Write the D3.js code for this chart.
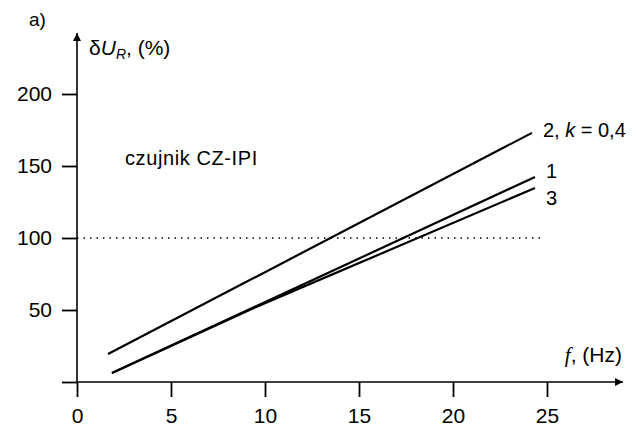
<!DOCTYPE html>
<html>
<head>
<meta charset="utf-8">
<script src="https://cdn.jsdelivr.net/npm/d3@7"></script>
<style>
  body { margin: 0; background: #fff; }
  svg { display: block; font-family: "Liberation Sans", Arial, sans-serif; }
  .tick text { font-size: 21px; fill: #000; }
  .tick line { stroke: #000; stroke-width: 1.8; }
</style>
</head>
<body>
<div id="chart"></div>
<script>
'use strict';

// frequency ticks (Hz) and deviation ticks (%)
const xTicks = [0, 5, 10, 15, 20, 25];
const yTicks = [0, 50, 100, 150, 200];

// curve 2 (k = 0,4)
const f2 = [1.65, 24.2];
const u2 = [19.4, 173];
// curve 1
const f1 = [1.86, 24.36];
const u1 = [6.2, 142.4];
// curve 3 (follows curve 1 at first, then bends lower)
const f3 = [1.86, 9.5, 24.36];
const u3 = [6.2, 52, 134.7];

const refLevel = 100;
const refEnd = 24.7;

(function() {
    let width = 640, height = 428;

    let svg = d3.select('#chart')
        .append('svg')
        .attr('width', width)
        .attr('height', height);

    let x = d3.scaleLinear().domain([0, 25]).range([77, 547]);
    let y = d3.scaleLinear().domain([0, 200]).range([382, 94]);

    // arrow heads
    let defs = svg.append('defs');
    defs.append('marker')
        .attr('id', 'arrow')
        .attr('viewBox', '0 0 10 10')
        .attr('refX', 10).attr('refY', 5)
        .attr('markerWidth', 11).attr('markerHeight', 8)
        .attr('markerUnits', 'userSpaceOnUse')
        .attr('orient', 'auto')
        .append('path')
        .attr('d', 'M0,0 L10,5 L0,10 Z')
        .attr('fill', '#000');

    // x axis
    let xAxis = svg.append('g')
        .attr('transform', 'translate(0,' + y(0) + ')')
        .call(d3.axisBottom(x).tickValues(xTicks).tickSize(15).tickPadding(11).tickSizeOuter(0));
    xAxis.select('.domain').remove();

    // y axis
    let yAxis = svg.append('g')
        .attr('transform', 'translate(' + x(0) + ',0)')
        .call(d3.axisLeft(y).tickValues(yTicks).tickSize(15).tickPadding(10)
            .tickFormat(d => d === 0 ? '' : d).tickSizeOuter(0));
    yAxis.select('.domain').remove();

    // axis lines with arrows
    svg.append('line')
        .attr('x1', x(0)).attr('y1', y(0))
        .attr('x2', 623).attr('y2', y(0))
        .attr('stroke', '#000').attr('stroke-width', 1.6)
        .attr('marker-end', 'url(#arrow)');
    svg.append('line')
        .attr('x1', x(0)).attr('y1', y(0))
        .attr('x2', x(0)).attr('y2', 33)
        .attr('stroke', '#000').attr('stroke-width', 1.6)
        .attr('marker-end', 'url(#arrow)');

    // reference level 100 %
    svg.append('line')
        .attr('x1', x(0)).attr('y1', y(refLevel))
        .attr('x2', x(refEnd)).attr('y2', y(refLevel))
        .attr('stroke', '#000').attr('stroke-width', 1.4)
        .attr('stroke-dasharray', '1.5,5');

    let line = d3.line()
        .x(d => x(d[0]))
        .y(d => y(d[1]));

    let curves = [
        { f: f2, u: u2 },
        { f: f1, u: u1 },
        { f: f3, u: u3 }
    ];

    svg.selectAll('.curve')
        .data(curves)
        .enter().append('path')
        .attr('class', 'curve')
        .attr('d', c => line(c.f.map((v, i) => [v, c.u[i]])))
        .attr('fill', 'none')
        .attr('stroke', '#000')
        .attr('stroke-width', 2.2);

    // curve labels
    let lbl2 = svg.append('text')
        .attr('x', x(f2[1]) + 11).attr('y', y(u2[1]) + 4)
        .attr('font-size', 20);
    lbl2.append('tspan').text('2, ');
    lbl2.append('tspan').attr('font-style', 'italic').text('k');
    lbl2.append('tspan').text(' = 0,4');

    svg.append('text')
        .attr('x', x(f1[1]) + 11).attr('y', y(u1[1]) + 1)
        .attr('font-size', 20)
        .text('1');
    svg.append('text')
        .attr('x', x(f3[2]) + 11).attr('y', y(u3[2]) + 17)
        .attr('font-size', 20)
        .text('3');

    svg.append('text')
        .attr('x', 125).attr('y', 165)
        .attr('font-size', 20)
        .attr('letter-spacing', 0.6)
        .text('czujnik CZ-IPI');

    // axis titles
    let yTitle = svg.append('text')
        .attr('x', 89).attr('y', 55)
        .attr('font-size', 21);
    yTitle.append('tspan').text('δ');
    yTitle.append('tspan').attr('font-style', 'italic').text('U');
    yTitle.append('tspan').attr('font-style', 'italic').attr('font-size', 14)
        .attr('dy', 4).text('R');
    yTitle.append('tspan').attr('dy', -4).text(', (%)');

    let xTitle = svg.append('text')
        .attr('x', 622).attr('y', 362)
        .attr('text-anchor', 'end')
        .attr('font-size', 21);
    xTitle.append('tspan').attr('font-family', '"Liberation Serif", serif')
        .attr('font-style', 'italic').text('f');
    xTitle.append('tspan').text(', (Hz)');

    svg.append('text')
        .attr('x', 29).attr('y', 26)
        .attr('font-size', 19)
        .text('a)');
})();
</script>
</body>
</html>
